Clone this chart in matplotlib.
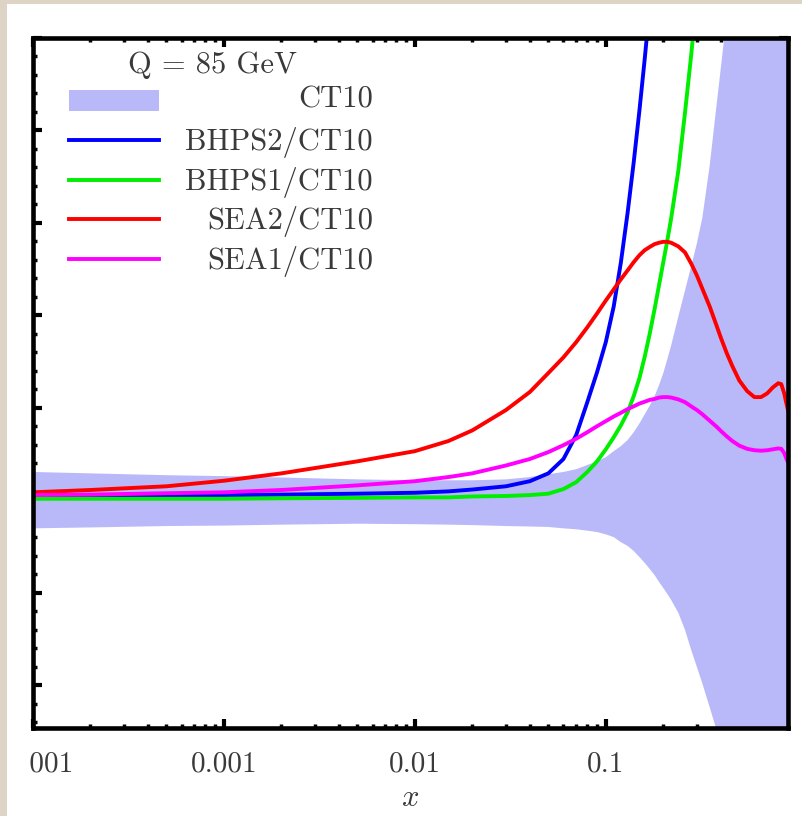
import matplotlib
matplotlib.use("Agg")
import matplotlib.pyplot as plt
from matplotlib.patches import Rectangle
from matplotlib.lines import Line2D
from matplotlib.ticker import LogLocator, NullFormatter, MultipleLocator

plt.rcParams['font.family'] = 'serif'
plt.rcParams['font.serif'] = ['cmr10']
plt.rcParams['mathtext.fontset'] = 'cm'
plt.rcParams['axes.formatter.use_mathtext'] = True

# common x grid for the band and the SEA curves
x_grid = [1e-4, 2e-4, 5e-4, 1e-3, 2e-3, 5e-3, 1e-2, 1.5e-2, 2e-2, 3e-2, 4e-2, 5e-2,
          6e-2, 7e-2, 8e-2, 9e-2, 0.1, 0.11, 0.12, 0.13, 0.14, 0.15, 0.16, 0.17,
          0.18, 0.19, 0.2, 0.21, 0.22, 0.24, 0.26, 0.28, 0.3, 0.32, 0.35, 0.38,
          0.4, 0.43, 0.46, 0.5, 0.55, 0.6, 0.65, 0.7, 0.75, 0.8, 0.83, 0.86, 0.88, 0.9]

# CT10 uncertainty band (ratio to central CT10)
band_hi = [1.061, 1.058, 1.054, 1.052, 1.049, 1.045, 1.043, 1.043, 1.043, 1.045, 1.050, 1.056,
           1.061, 1.067, 1.076, 1.084, 1.093, 1.106, 1.117, 1.130, 1.147, 1.166, 1.186, 1.205,
           1.225, 1.249, 1.275, 1.305, 1.335, 1.398, 1.454, 1.506, 1.556, 1.610, 1.724, 1.854,
           1.934, 2.049, 2.157, 2.35, 2.6, 2.8, 3.0, 3.2, 3.3, 3.4, 3.45, 3.5, 3.5, 3.5]
band_lo = [0.939, 0.941, 0.944, 0.945, 0.947, 0.949, 0.948, 0.947, 0.946, 0.944, 0.943, 0.942,
           0.939, 0.937, 0.934, 0.931, 0.926, 0.920, 0.909, 0.901, 0.890, 0.877, 0.864, 0.851,
           0.838, 0.823, 0.810, 0.797, 0.784, 0.756, 0.719, 0.676, 0.639, 0.604, 0.552, 0.503,
           0.470, 0.416, 0.362, 0.28, 0.2, 0.12, 0.05, 0.0, -0.05, -0.1, -0.12, -0.14, -0.15, -0.15]

# SEA2/CT10 and SEA1/CT10
sea2_y = [1.017, 1.022, 1.030, 1.042, 1.058, 1.084, 1.106, 1.128, 1.151, 1.195, 1.234, 1.275,
          1.309, 1.342, 1.374, 1.404, 1.432, 1.456, 1.478, 1.497, 1.515, 1.530, 1.541, 1.548,
          1.554, 1.557, 1.559, 1.559, 1.557, 1.549, 1.536, 1.512, 1.486, 1.458, 1.419, 1.378,
          1.352, 1.318, 1.290, 1.259, 1.236, 1.223, 1.223, 1.231, 1.244, 1.253, 1.251, 1.231,
          1.212, 1.195]
sea1_y = [1.011, 1.012, 1.015, 1.017, 1.022, 1.032, 1.041, 1.050, 1.058, 1.075, 1.089, 1.104,
          1.119, 1.133, 1.147, 1.160, 1.171, 1.181, 1.189, 1.197, 1.203, 1.209, 1.213, 1.217,
          1.219, 1.222, 1.223, 1.223, 1.222, 1.218, 1.212, 1.203, 1.195, 1.186, 1.172, 1.159,
          1.150, 1.138, 1.128, 1.118, 1.111, 1.108, 1.107, 1.108, 1.110, 1.112, 1.111, 1.102,
          1.091, 1.082]

# BHPS2/CT10
bhps2_x = [1e-4, 2e-4, 5e-4, 1e-3, 2e-3, 5e-3, 1e-2, 1.5e-2, 2e-2, 3e-2, 4e-2, 5e-2,
           6e-2, 7e-2, 8e-2, 9e-2, 0.1, 0.11, 0.12, 0.13, 0.14, 0.15, 0.16, 0.17,
           0.18, 0.19, 0.2]
bhps2_y = [1.008, 1.009, 1.010, 1.011, 1.012, 1.014, 1.016, 1.019, 1.023, 1.030, 1.041, 1.058,
           1.089, 1.141, 1.212, 1.277, 1.342, 1.419, 1.515, 1.621, 1.731, 1.843, 1.956, 2.070,
           2.178, 2.287, 2.395]

# BHPS1/CT10
bhps1_x = [1e-4, 2e-4, 5e-4, 1e-3, 2e-3, 5e-3, 1e-2, 1.5e-2, 2e-2, 3e-2, 4e-2, 5e-2,
           6e-2, 7e-2, 8e-2, 9e-2, 0.1, 0.11, 0.12, 0.13, 0.14, 0.15, 0.16, 0.17,
           0.18, 0.19, 0.2, 0.21, 0.22, 0.24, 0.26, 0.28, 0.3, 0.32]
bhps1_y = [1.003, 1.003, 1.003, 1.003, 1.004, 1.005, 1.006, 1.006, 1.008, 1.009, 1.011, 1.014,
           1.024, 1.039, 1.061, 1.084, 1.110, 1.136, 1.162, 1.190, 1.225, 1.264, 1.311, 1.361,
           1.413, 1.465, 1.515, 1.562, 1.610, 1.714, 1.839, 1.963, 2.092, 2.211]

x_ticks = [1e-4, 1e-3, 1e-2, 1e-1]
x_tick_labels = ['0.0001', '0.001', '0.01', '0.1']

legend_labels = ['CT10', 'BHPS2/CT10', 'BHPS1/CT10', 'SEA2/CT10', 'SEA1/CT10']
legend_title = 'Q = 85 GeV'

band_color = '#b9b9fa'
line_colors = ['#0000ff', '#00ee00', '#ff0000', '#ff00ff']
text_color = '#3a3a3a'
paper = '#ddd4c5'

fig = plt.figure(figsize=(8.02, 8.16), dpi=100, facecolor=paper)
fig.add_artist(Rectangle((7 / 802, 0), 1, 812 / 816, transform=fig.transFigure,
                         facecolor='white', edgecolor='none', zorder=-10))

ax = fig.add_axes([33 / 802, 88 / 816, 755 / 802, 690 / 816])
ax.set_facecolor('white')
ax.set_xscale('log')
ax.set_xlim(1e-4, 0.9)
ax.set_ylim(0.507, 2.0)
ax.set_axisbelow(True)

ax.fill_between(x_grid, band_lo, band_hi, color=band_color, linewidth=0, zorder=1)
lw = 2.8
ax.plot(bhps2_x, bhps2_y, color=line_colors[0], lw=lw, zorder=2)
ax.plot(bhps1_x, bhps1_y, color=line_colors[1], lw=lw, zorder=2)
ax.plot(x_grid, sea2_y, color=line_colors[2], lw=lw, zorder=2)
ax.plot(x_grid, sea1_y, color=line_colors[3], lw=lw, zorder=2)

for s in ax.spines.values():
    s.set_linewidth(3.3)

ax.set_xticks(x_ticks, labels=x_tick_labels)
ax.xaxis.set_minor_locator(LogLocator(base=10, subs=[2, 3, 4, 5, 6, 7, 8, 9]))
ax.xaxis.set_minor_formatter(NullFormatter())
ax.yaxis.set_major_locator(MultipleLocator(0.2))
ax.yaxis.set_minor_locator(MultipleLocator(0.04))
ax.tick_params(which='both', direction='in', top=True, right=True, labelleft=False,
               labelsize=21, labelcolor=text_color, pad=17)
ax.tick_params(which='major', length=6.5, width=3)
ax.tick_params(which='minor', length=3.2, width=2.5)
ax.set_xlabel('$x$', fontsize=22, color=text_color, labelpad=5)

# legend, labels right-aligned
ax.text(0.2371, 0.9493, legend_title, transform=ax.transAxes, ha='center', va='baseline',
        fontsize=22, color=text_color)
row_step = 0.0573
ax.add_patch(Rectangle((0.0477, 0.8942), 0.1192, 0.0304, transform=ax.transAxes,
                       facecolor=band_color, edgecolor='none', zorder=3))
for i, lab in enumerate(legend_labels):
    ax.text(0.4503, 0.8986 - i * row_step - (0.004 if i else 0), lab, transform=ax.transAxes,
            ha='right', va='baseline', fontsize=22, color=text_color)
for i, c in enumerate(line_colors):
    yy = 0.8522 - i * row_step
    ax.add_line(Line2D([0.0477, 0.1669], [yy, yy], transform=ax.transAxes, color=c, lw=lw))

# the left edge of the plot is trimmed
fig.add_artist(Rectangle((7 / 802, 0), 23 / 802, 812 / 816, transform=fig.transFigure,
                         facecolor='white', edgecolor='none', zorder=10))
fig.add_artist(Rectangle((0, 0), 7 / 802, 1, transform=fig.transFigure,
                         facecolor=paper, edgecolor='none', zorder=10))

fig.savefig('out.png', dpi=100, facecolor=fig.get_facecolor())
